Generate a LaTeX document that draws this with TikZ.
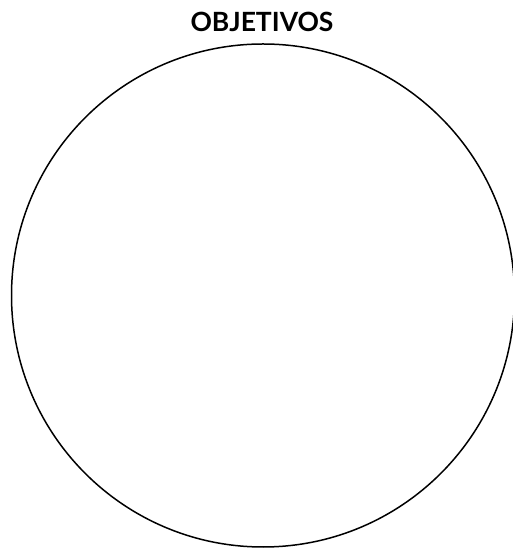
\documentclass[tikz,border=0pt]{standalone}
\usepackage{fontspec}
\setsansfont{Lato}
\begin{document}
\begin{tikzpicture}[x=1pt,y=1pt,
  titlelabel/.style={font=\sffamily\bfseries\fontsize{26.5}{30}\selectfont},
  objcircle/.style={draw=black,line width=1.5pt}]
  \useasboundingbox (0,0) rectangle (512,549);
  \node[titlelabel] (title) at (262,527) {OBJETIVOS};
  \node[objcircle,circle,minimum size=503pt,inner sep=0pt] (obj) at (263,253.5) {};
\end{tikzpicture}
\end{document}
